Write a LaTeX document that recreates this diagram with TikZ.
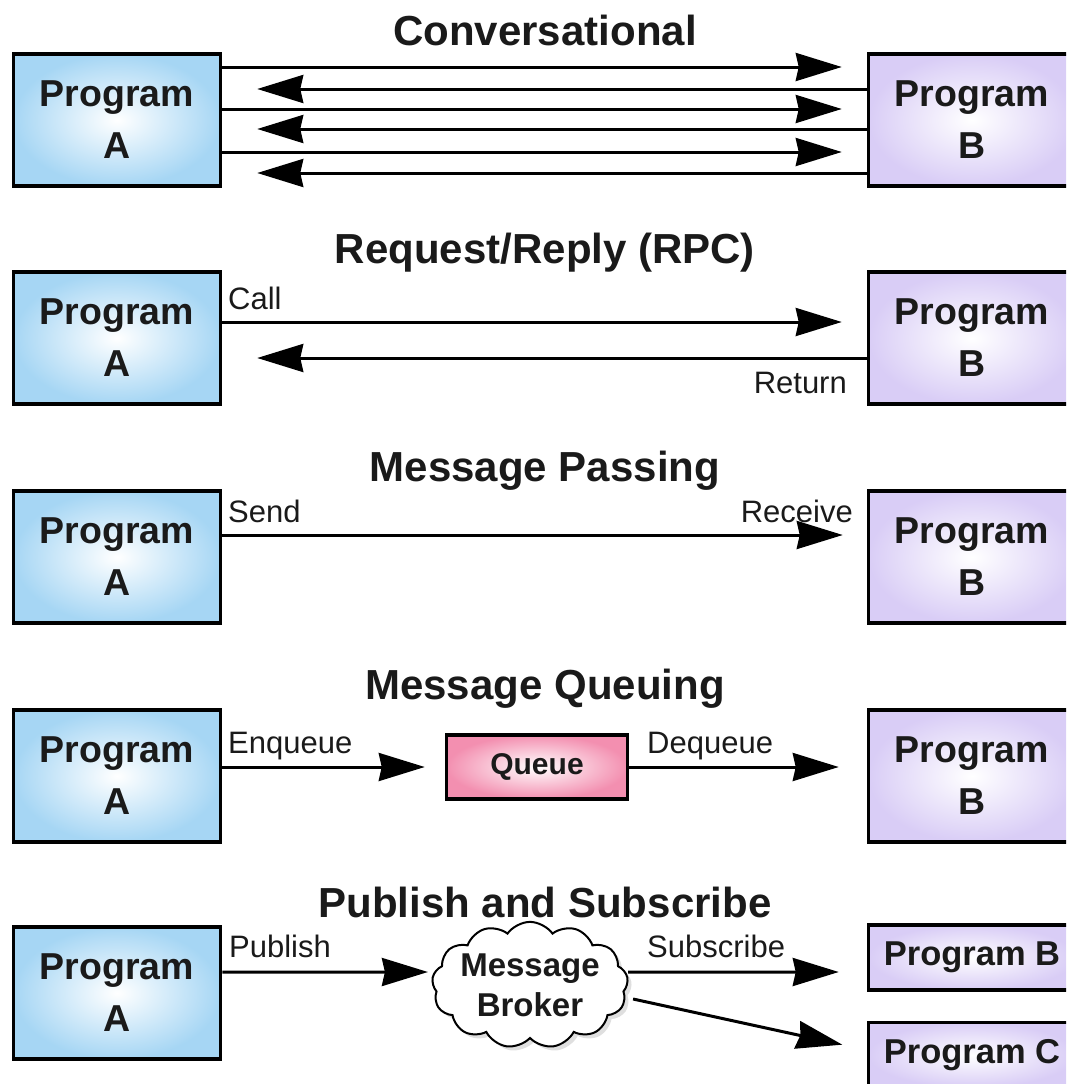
\documentclass[tikz,border=0pt]{standalone}
\usepackage{fontspec}
\setmainfont{Liberation Sans}
\usepackage{xcolor}
\usepackage{tikz}
\usetikzlibrary{arrows.meta,calc,shapes.symbols,shadows}

\definecolor{progblue}{HTML}{A6D6F4}
\definecolor{progpurple}{HTML}{D9CDF6}
\definecolor{queuepink}{HTML}{F38FB0}
\definecolor{ink}{HTML}{1A1A1A}

\begin{document}
\begin{tikzpicture}[
            x=1pt, y=-1pt,
            every node/.style={text=ink},
            prog/.style={draw, line width=3.5pt, minimum width=207pt, minimum height=132pt, inner color=white, align=center, font=\bfseries\fontsize{37.5}{52}\selectfont},
            proga/.style={prog, outer color=progblue},
            progb/.style={prog, outer color=progpurple},
            progsmall/.style={progb, minimum height=65pt, font=\bfseries\fontsize{34.5}{40}\selectfont},
            ttl/.style={anchor=base, font=\bfseries\fontsize{42}{46}\selectfont},
            lbl/.style={inner sep=0pt, font=\fontsize{31}{34}\selectfont},
            arr/.style={line width=3pt, -{Stealth[length=46pt,width=28pt,inset=3pt]}},
        ]
            \useasboundingbox (0,0) rectangle (1066,1084);
            \clip (0,0) rectangle (1066,1084);

            % Conversational
            \node[ttl] (t1) at (545,45) {Conversational};
            \node[proga] (a1) at (117,120) {Program\\A};
            \node[progb] (b1) at (972,120) {Program\\B};
            \foreach \dy in {-53,-11,32}
                \draw[arr, shorten >=25pt] ($(a1.east)+(0,\dy)$) -- ($(b1.west)+(0,\dy)$);
            \foreach \dy in {-31,9,53}
                \draw[arr, shorten >=35pt] ($(b1.west)+(0,\dy)$) -- ($(a1.east)+(0,\dy)$);

            % Request/Reply
            \node[ttl] (t2) at (545,263) {Request/Reply (RPC)};
            \node[proga] (a2) at (117,338) {Program\\A};
            \node[progb] (b2) at (972,338) {Program\\B};
            \draw[arr, shorten >=25pt] ($(a2.east)+(0,-16)$) -- ($(b2.west)+(0,-16)$);
            \draw[arr, shorten >=35pt] ($(b2.west)+(0,20)$) -- ($(a2.east)+(0,20)$);
            \node[lbl, anchor=base west] (call) at (228,309) {Call};
            \node[lbl, anchor=base east] (ret) at (847,393) {Return};

            % Message Passing
            \node[ttl] (t3) at (545,481) {Message Passing};
            \node[proga] (a3) at (117,557) {Program\\A};
            \node[progb] (b3) at (972,557) {Program\\B};
            \draw[arr, shorten >=24pt] ($(a3.east)+(0,-22)$) -- ($(b3.west)+(0,-22)$);
            \node[lbl, anchor=base west] (send) at (228,522) {Send};
            \node[lbl, anchor=base east] (recv) at (853,522) {Receive};

            % Message Queuing
            \node[ttl] (t4) at (545,699) {Message Queuing};
            \node[proga] (a4) at (117,776) {Program\\A};
            \node[progb] (b4) at (972,776) {Program\\B};
            \node[draw, line width=3.5pt, minimum width=181pt, minimum height=64pt, inner color=white, outer color=queuepink,
                font=\bfseries\fontsize{30}{34}\selectfont] (queue) at (537,767) {Queue};
            \draw[arr, shorten >=20pt] (a4.east |- queue) -- (queue.west);
            \draw[arr, shorten >=28pt] (queue.east) -- (queue.east -| b4.west);
            \node[lbl, anchor=base west] (enq) at (228,753) {Enqueue};
            \node[lbl, anchor=base west] (deq) at (647,753) {Dequeue};

            % Publish and Subscribe
            \node[ttl] (t5) at (545,917) {Publish and Subscribe};
            \node[proga] (a5) at (117,993) {Program\\A};
            \node[cloud, cloud puffs=13, cloud puff arc=110, aspect=1.75, draw, line width=2pt, fill=white, inner sep=-4pt,
                minimum width=196pt, minimum height=110pt, align=center, drop shadow={opacity=0.25, shadow xshift=4pt, shadow yshift=-4pt},
                font=\bfseries\fontsize{33}{40}\selectfont] (broker) at (530,985) {Message\\Broker};
            \node[progsmall] (pb) at (972,957.5) {Program B};
            \node[progsmall] (pc) at (972,1055) {Program C};
            \draw[arr, shorten >=4pt] ($(a5.east)+(0,-21)$) -- ($(broker.west)+(0,-13)$);
            \draw[arr, shorten >=28pt] ($(broker.east)+(0,-13)$) -- ($(pb.west)+(0,14.5)$);
            \draw[arr, shorten >=25pt] ($(broker.east)+(5,14)$) -- ($(pc.west)+(0,-5)$);
            \node[lbl, anchor=base west] (pub) at (229,957) {Publish};
            \node[lbl, anchor=base west] (sub) at (647,957) {Subscribe};
        \end{tikzpicture}
\end{document}
